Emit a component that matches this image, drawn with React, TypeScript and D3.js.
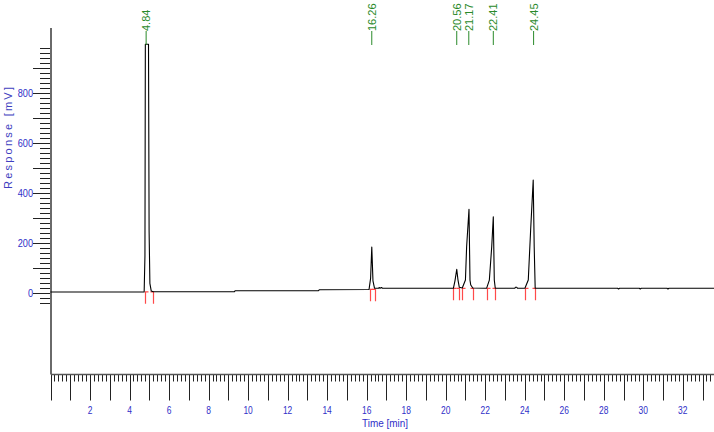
import React from "react";
import * as d3 from "d3";

// Chromatogram trace: [time (min), response (mV)]
const trace: [number, number][] = [
  [0, 5], [4.74, 5], [4.78, 150], [4.8, 996], [4.96, 996], [4.99, 250], [5.03, 40], [5.1, 9], [5.2, 6],
  [9.3, 6], [9.34, 10], [13.55, 10], [13.6, 14], [16.12, 15], [16.2, 60], [16.26, 185], [16.32, 50],
  [16.4, 20], [16.6, 20], [16.63, 23], [16.68, 20], [16.75, 23], [16.8, 20],
  [20.39, 20], [20.47, 50], [20.56, 96], [20.62, 55], [20.69, 24], [20.84, 21],
  [21.0, 53], [21.06, 186], [21.18, 336], [21.23, 53], [21.27, 33], [21.37, 21],
  [22.07, 20], [22.21, 53], [22.33, 186], [22.41, 306], [22.46, 53], [22.51, 20],
  [23.5, 20], [23.53, 24], [23.6, 24], [23.63, 20],
  [24.01, 20], [24.18, 53], [24.3, 253], [24.43, 453], [24.48, 186], [24.53, 20],
  [28.7, 20], [28.75, 17], [28.8, 20], [29.8, 20], [29.85, 17], [29.9, 20], [31.2, 20], [31.25, 17], [31.3, 20],
  [33.6, 20],
];

const peakTimes = [4.84, 16.26, 20.56, 21.17, 22.41, 24.45];
const peakLabels = ["4.84", "16.26", "20.56", "21.17", "22.41", "24.45"];
const peakStart = [4.77, 16.17, 20.39, 20.84, 22.07, 24.01];
const peakEnd = [5.2, 16.4, 20.69, 21.37, 22.51, 24.53];
const markBase = [6, 16, 20, 20, 20, 20];

const yLabels = [0, 200, 400, 600, 800];
const xLabels = [2, 4, 6, 8, 10, 12, 14, 16, 18, 20, 22, 24, 26, 28, 30, 32];

const BLUE = "#2f2fc8";
const GREEN = "#2a8a2a";
const RED = "#ff4a4a";
const NARROW = "'Liberation Sans Narrow', 'Arial Narrow', 'Liberation Sans', Arial, sans-serif";
const SANS = "'Liberation Sans', Arial, sans-serif";

export default function App() {
  const W = 714, H = 432;
  const x = d3.scaleLinear().domain([0, 33.6]).range([50.5, 714.4]);
  const y = d3.scaleLinear().domain([0, 1000]).range([293.3, 43.3]);
  const line = d3.line<[number, number]>().x((d) => x(d[0])).y((d) => y(d[1]));

  const axisX = 51;
  const axisY = 374.5;

  const yMinor = d3.range(-40, 981, 20);
  const xMinor = d3.range(0, 168).map((i) => i / 5);

  return (
    <svg width={W} height={H} style={{ position: "absolute", left: 0, top: 0, background: "#fff" }}>
      {/* y ticks */}
      {yMinor.map((v) => {
        const major = v % 100 === 0;
        return (
          <line key={"yt" + v} x1={major ? axisX - 18 : axisX - 11} x2={axisX} y1={Math.round(y(v)) + 0.5} y2={Math.round(y(v)) + 0.5}
            stroke="#222" strokeWidth={1} />
        );
      })}
      {yLabels.map((v) => (
        <text key={"yl" + v} x={33} y={y(v) + 3.8} textAnchor="end" fontFamily={NARROW} fontSize={10.5} fill={BLUE}
          textLength={String(v).length * 5.1} lengthAdjust="spacingAndGlyphs">{v}</text>
      ))}
      <text transform={`translate(12, 138) rotate(-90)`} textAnchor="middle" fontFamily={SANS} fontSize={11} fill="#4040c0"
        textLength={102} lengthAdjust="spacing">Response [mV]</text>

      {/* x ticks */}
      {xMinor.map((v, i) => {
        const major = i % 5 === 0;
        const px = Math.round(x(v)) + 0.5;
        return (
          <line key={"xt" + i} x1={px} x2={px} y1={axisY} y2={major ? axisY + 26 : axisY + 7} stroke="#222" strokeWidth={1} />
        );
      })}
      {xLabels.map((v) => (
        <text key={"xl" + v} x={x(v)} y={413.5} textAnchor="middle" fontFamily={NARROW} fontSize={10.5} fill={BLUE}
          textLength={String(v).length * 4.7} lengthAdjust="spacingAndGlyphs">{v}</text>
      ))}
      <text x={385} y={427} textAnchor="middle" fontFamily={SANS} fontSize={10} fill={BLUE}
        textLength={46} lengthAdjust="spacingAndGlyphs">Time [min]</text>

      {/* axis lines */}
      <line x1={axisX} x2={axisX} y1={28} y2={axisY} stroke="#6a6a6a" strokeWidth={2} />
      <line x1={axisX} x2={W} y1={axisY} y2={axisY} stroke="#555" strokeWidth={1.5} />

      {/* integration marks */}
      {peakStart.map((t, i) => {
        const px = Math.round(x(t)) + 0.5;
        const by = y(markBase[i]);
        return (
          <path key={"ps" + i} d={`M${px + 3},${by} L${px},${by} L${px},${by + 12}`} fill="none" stroke={RED} strokeWidth={1.2} />
        );
      })}
      {peakEnd.map((t, i) => {
        const px = Math.round(x(t)) + 0.5;
        const by = y(markBase[i]);
        return (
          <path key={"pe" + i} d={`M${px - 3},${by} L${px},${by} L${px},${by + 12}`} fill="none" stroke={RED} strokeWidth={1.2} />
        );
      })}

      {/* trace */}
      <path d={line(trace) || ""} fill="none" stroke="#000" strokeWidth={1.1} strokeLinejoin="round" />

      {/* peak labels */}
      {peakTimes.map((t, i) => (
        <g key={"pl" + i}>
          <line x1={x(t)} x2={x(t)} y1={31} y2={45} stroke={GREEN} strokeWidth={1} />
          <text transform={`translate(${x(t)}, 31) rotate(-90)`} dy="0.36em" textAnchor="start" fontFamily={SANS} fontSize={11} fill={GREEN}>
            {peakLabels[i]}
          </text>
        </g>
      ))}
    </svg>
  );
}
